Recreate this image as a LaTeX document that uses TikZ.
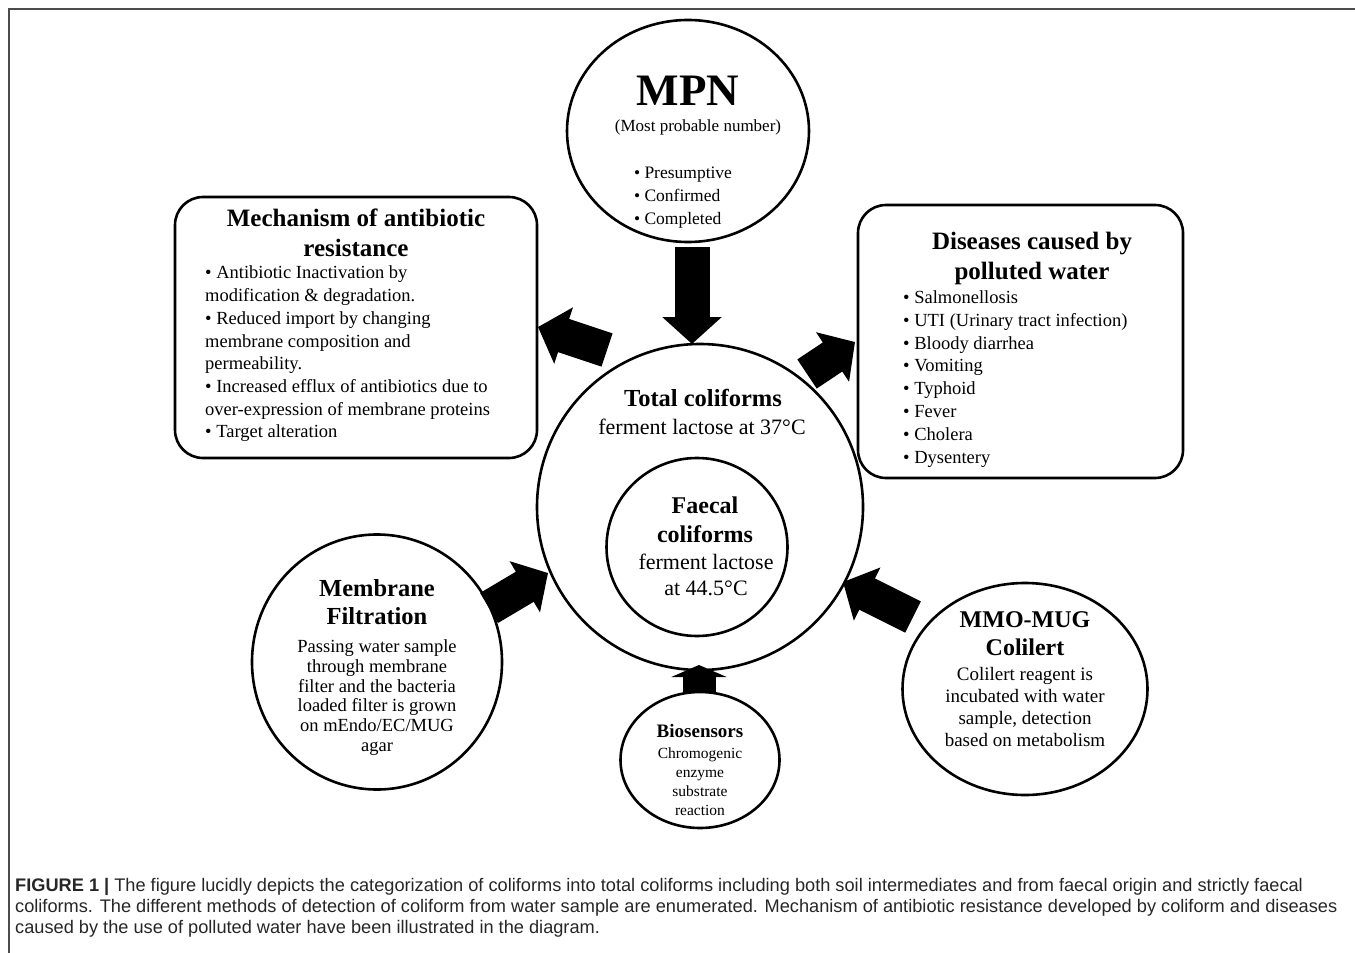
\documentclass[tikz,border=0pt]{standalone}
\usepackage{fontspec}
\setmainfont{Liberation Serif}
\newfontfamily\capfont{Liberation Sans}
\usetikzlibrary{shapes.geometric,arrows.meta}
\newcommand{\fsz}[2]{\fontsize{#1}{#2}\selectfont}
\begin{document}
\begin{tikzpicture}[x=1pt,y=-1pt,
  circ/.style={draw, line width=2.6pt, ellipse, inner sep=0pt},
  rbox/.style={draw, line width=2.6pt, rounded corners=28pt, rectangle, inner sep=0pt},
  blk/.style={line width=35pt, -{Triangle[length=27pt,width=58pt]}},
  txt/.style={inner sep=0pt, align=center},
  ltxt/.style={inner sep=0pt, align=left, anchor=west},
]
\useasboundingbox (0,0) rectangle (1355,953);
% frame
\draw[black!70, line width=2pt] (1355,8.5) -- (8.5,8.5) -- (8.5,953);

% shapes
\node[rbox, minimum width=362pt, minimum height=261pt] (mech) at (356,327.5) {};
\node[rbox, minimum width=325pt, minimum height=273pt] (dis) at (1020.5,341.5) {};
\node[circ, minimum width=242pt, minimum height=222pt] (mpn) at (688,131) {};
\node[circ, minimum size=326pt] (total) at (700,507) {};
\node[circ, minimum width=181pt, minimum height=178pt] (faecal) at (697,547) {};
\node[circ, minimum width=250pt, minimum height=255pt] (memb) at (377,662) {};
\node[circ, minimum width=245pt, minimum height=212pt] (mmo) at (1025,689) {};
\node[circ, minimum width=159pt, minimum height=136pt] (bio) at (700,760) {};

% MPN texts
\node[txt, font=\bfseries\fsz{45}{45}] (mpnT) at (688,91) {MPN};
\node[txt, font=\fsz{17}{20}] (mpnS) at (698,127) {(Most probable number)};
\node[inner sep=0pt, align=left, font=\fsz{17.5}{23}] (mpnL) at (683,198) {• Presumptive\\• Confirmed\\• Completed};

% Mechanism
\node[txt, font=\bfseries\fsz{25}{30}] (mechT) at (356,233) {Mechanism of antibiotic\\resistance};
\node[ltxt, font=\fsz{18.5}{22.7}] (mechL) at (205,354) {• Antibiotic Inactivation by\\modification \& degradation.\\• Reduced import by changing\\membrane composition and\\permeability.\\• Increased efflux of antibiotics due to\\over-expression of membrane proteins\\• Target alteration};

% Diseases
\node[txt, font=\bfseries\fsz{25}{30}] (disT) at (1032,258) {Diseases caused by\\polluted water};
\node[ltxt, font=\fsz{18.5}{22.9}] (disL) at (903,379) {• Salmonellosis\\• UTI (Urinary tract infection)\\• Bloody diarrhea\\• Vomiting\\• Typhoid\\• Fever\\• Cholera\\• Dysentery};

% Total / Faecal
\node[txt, font=\bfseries\fsz{24.5}{28}] (totT) at (703,398) {Total coliforms};
\node[txt, font=\fsz{22}{24}] (totS) at (702,427) {ferment lactose at 37°C};
\node[txt, font=\bfseries\fsz{24}{29}] (faeT) at (705,519.5) {Faecal\\coliforms};
\node[txt, font=\fsz{22}{26}] (faeS) at (706,575) {ferment lactose\\at 44.5°C};

% Membrane
\node[txt, font=\bfseries\fsz{24.5}{28}] (membT) at (377,602) {Membrane\\Filtration};
\node[txt, font=\fsz{18.5}{19.8}] (membS) at (377,697.5) {Passing water sample\\through membrane\\filter and the bacteria\\loaded filter is grown\\on mEndo/EC/MUG\\agar};

% MMO
\node[txt, font=\bfseries\fsz{24}{28}] (mmoT) at (1025,634) {MMO-MUG\\Colilert};
\node[txt, font=\fsz{19}{22}] (mmoS) at (1025,707) {Colilert reagent is\\incubated with water\\sample, detection\\based on metabolism};

% Biosensors
\node[txt, font=\bfseries\fsz{19}{20}] (bioT) at (700,731) {Biosensors};
\node[txt, font=\fsz{15.5}{19}] (bioS) at (700,781.5) {Chromogenic\\enzyme\\substrate\\reaction};

% block arrows
\coordinate (a1s) at (692,247); \coordinate (a1e) at (692,344);
\coordinate (a2s) at (607,350); \coordinate (a2e) at (538,327);
\coordinate (a3s) at (807,374); \coordinate (a3e) at (855,342);
\coordinate (a4s) at (489,608); \coordinate (a4e) at (548,573);
\coordinate (a5s) at (913,617); \coordinate (a5e) at (843,582);
\coordinate (a6s) at (699,692); \coordinate (a6e) at (699,665);
\draw[blk] (a1s) -- (a1e);
\draw[blk] (a2s) -- (a2e);
\draw[blk] (a3s) -- (a3e);
\draw[blk] (a4s) -- (a4e);
\draw[blk] (a5s) -- (a5e);
\draw[line width=33pt, -{Triangle[length=12pt,width=55pt]}] (a6s) -- (a6e);

% caption
\node[ltxt, font=\capfont\fsz{18.2}{21}, text=black!85] (cap) at (15,908) {{\bfseries FIGURE 1 |} The figure lucidly depicts the categorization of coliforms into total coliforms including both soil intermediates and from faecal origin and strictly faecal\\coliforms. The different methods of detection of coliform from water sample are enumerated. Mechanism of antibiotic resistance developed by coliform and diseases\\caused by the use of polluted water have been illustrated in the diagram.};
\end{tikzpicture}
\end{document}
